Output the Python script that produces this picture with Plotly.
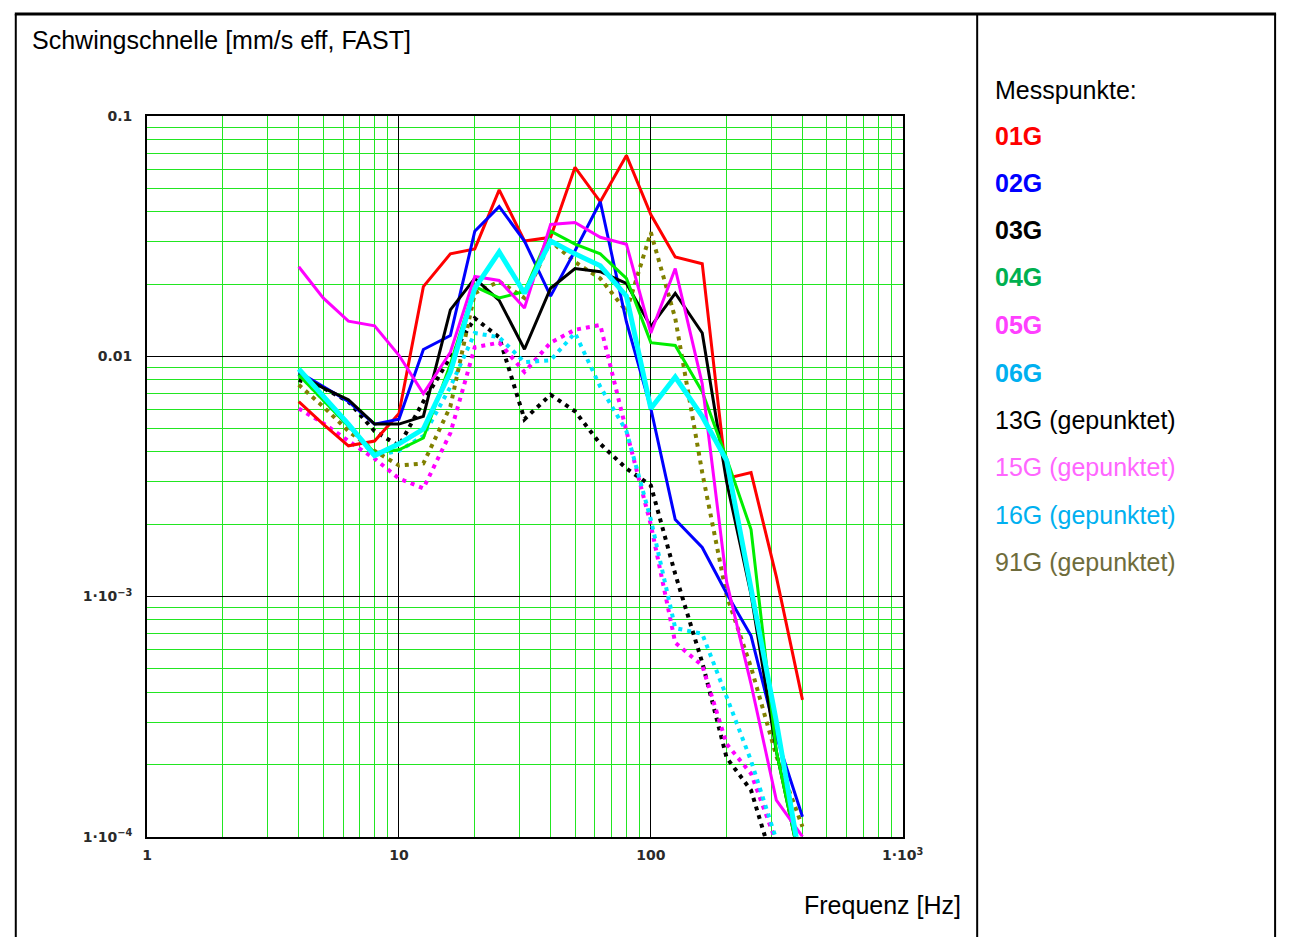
import plotly.graph_objects as go

W, H = 1301, 941

# Terzband-Mittenfrequenzen [Hz]
freq_hz = [4, 5, 6.3, 8, 10, 12.5, 16, 20, 25, 31.5, 40, 50, 63, 80, 100,
           125, 160, 200, 250, 315, 400]

# Schwingschnelle je Messpunkt [mm/s eff, FAST]
v_01G = [0.00648, 0.00522, 0.00424, 0.00444, 0.00578, 0.0195, 0.0267, 0.0280,
         0.0493, 0.0302, 0.0313, 0.0612, 0.0440, 0.0686, 0.0389, 0.0259, 0.0243,
         0.00310, 0.00328, 0.00121, 0.000371]
v_02G = [0.00860, 0.00746, 0.00648, 0.00522, 0.00547, 0.01068, 0.0122, 0.0332,
         0.0420, 0.0302, 0.0178, 0.0275, 0.0440, 0.0139, 0.00606, 0.00209, 0.00160,
         0.00103, 0.000686, 0.000262, 0.000121]
v_03G = [0.00844, 0.00739, 0.00660, 0.00522, 0.00522, 0.00562, 0.0156, 0.0211,
         0.0171, 0.0107, 0.0192, 0.0232, 0.0225, 0.0201, 0.0133, 0.0183, 0.0125,
         0.00300, 0.00102, 0.000227, 0.00007]
v_04G = [0.00836, 0.00660, 0.00512, 0.00397, 0.00408, 0.00457, 0.00927, 0.0195,
         0.0175, 0.0186, 0.0332, 0.0293, 0.0267, 0.0211, 0.0114, 0.0111, 0.00712,
         0.00375, 0.00190, 0.000227, 0.00007]
v_05G = [0.0236, 0.0175, 0.0140, 0.0134, 0.0101, 0.00699, 0.0104, 0.0215,
         0.0207, 0.0159, 0.0354, 0.0361, 0.0313, 0.0293, 0.0125, 0.0232, 0.00768,
         0.00115, 0.000432, 0.000142, 0.000100]
v_06G = [0.00885, 0.00679, 0.00522, 0.00386, 0.00432, 0.00498, 0.00860, 0.0192,
         0.0272, 0.0183, 0.0302, 0.0267, 0.0238, 0.0178, 0.00606, 0.00820, 0.00562,
         0.00368, 0.00108, 0.000302, 0.00007]
v_13G = [0.00797, 0.00739, 0.00648, 0.00488, 0.00424, 0.00648, 0.00991, 0.0144,
         0.0120, 0.00547, 0.00692, 0.00590, 0.00432, 0.00341, 0.00290, 0.00124,
         0.000531, 0.000213, 0.000156, 0.00007, 0.00005]
v_15G = [0.00606, 0.00527, 0.00444, 0.00375, 0.00310, 0.00282, 0.00479, 0.0109,
         0.0114, 0.00860, 0.0114, 0.0129, 0.0135, 0.00488, 0.00199, 0.000642,
         0.000516, 0.000243, 0.000183, 0.0000945, 0.00006]
v_16G = [0.00844, 0.00660, 0.00512, 0.00386, 0.00404, 0.00466, 0.00746, 0.0125,
         0.0120, 0.00945, 0.00963, 0.0125, 0.00746, 0.00488, 0.00209, 0.000739,
         0.000699, 0.000382, 0.000207, 0.0000972, 0.00006]
v_91G = [0.00761, 0.00618, 0.00488, 0.00404, 0.00351, 0.00358, 0.00618, 0.0183,
         0.0205, 0.0175, 0.0302, 0.0247, 0.0211, 0.0154, 0.0328, 0.0144, 0.00328,
         0.00101, 0.000507, 0.000217, 0.000110]

x_tickvals = [1, 10, 100, 1000]
x_ticktext = ["1", "10", "100", "1\u00b710<sup>3</sup>"]
y_tickvals = [0.1, 0.01, 0.001, 0.0001]
y_ticktext = ["0.1", "0.01", "1\u00b710<sup>\u22123</sup>", "1\u00b710<sup>\u22124</sup>"]

x_minor = [m * d for d in (1, 10, 100) for m in range(2, 10)]
y_minor = [m * d for d in (0.0001, 0.001, 0.01) for m in range(2, 10)]

DOT = "4px,5px"
series = [
    # (name, values, colour, width, dash)
    ("13G", v_13G, "#000000", 4, DOT),
    ("15G", v_15G, "#ff00ff", 4, DOT),
    ("16G", v_16G, "#00e5ff", 4, DOT),
    ("91G", v_91G, "#808000", 4, DOT),
    ("01G", v_01G, "#ff0000", 3, "solid"),
    ("02G", v_02G, "#0000ff", 3, "solid"),
    ("03G", v_03G, "#000000", 3, "solid"),
    ("04G", v_04G, "#00ee00", 3, "solid"),
    ("05G", v_05G, "#ff00ff", 3, "solid"),
    ("06G", v_06G, "#00ffff", 5, "solid"),
]

fig = go.Figure()
for name, vals, col, wid, dash in series:
    fig.add_trace(go.Scatter(
        x=freq_hz, y=vals, mode="lines", name=name,
        line=dict(color=col, width=wid, dash=dash),
        showlegend=False,
    ))

# plot area in pixels
PL, PR, PT, PB = 145, 916, 110, 843

tick_font = dict(family="DejaVu Sans", size=14, color="#2a2a2a", weight="bold")

fig.update_layout(
    width=W, height=H,
    margin=dict(l=0, r=0, t=0, b=0),
    paper_bgcolor="white", plot_bgcolor="white",
    xaxis=dict(
        type="log", range=[0, 3], domain=[PL / W, PR / W],
        showline=True, linecolor="black", linewidth=2, mirror=True,
        tickmode="array", tickvals=x_tickvals, ticktext=x_ticktext,
        ticks="", tickfont=tick_font, ticklabelstandoff=5,
        showgrid=True, gridcolor="black", gridwidth=1, zeroline=False,
        minor=dict(tickmode="array", tickvals=x_minor, showgrid=True,
                   gridcolor="#22e622", gridwidth=1, ticks=""),
    ),
    yaxis=dict(
        type="log", range=[-4, -1], domain=[1 - PB / H, 1 - PT / H],
        showline=True, linecolor="black", linewidth=2, mirror=True,
        tickmode="array", tickvals=y_tickvals, ticktext=y_ticktext,
        ticks="", tickfont=tick_font, ticklabelstandoff=10,
        showgrid=True, gridcolor="black", gridwidth=1, zeroline=False,
        minor=dict(tickmode="array", tickvals=y_minor, showgrid=True,
                   gridcolor="#22e622", gridwidth=1, ticks=""),
    ),
)

TEXT_FONT = "Liberation Sans, Arial, sans-serif"
FS = 25


def px(x, y):
    return x / W, 1 - y / H


def label(text, x, y, color="black", bold=False, anchor="left"):
    ax, ay = px(x, y)
    fig.add_annotation(
        x=ax, y=ay, xref="paper", yref="paper", text=text, showarrow=False,
        xanchor=anchor, yanchor="middle",
        font=dict(family=TEXT_FONT, size=FS, color=color,
                  weight="bold" if bold else "normal"),
    )


label("Schwingschnelle [mm/s eff, FAST]", 25, 33)
label("Frequenz [Hz]", 978, 913, anchor="right")

legend_rows = [
    ("Messpunkte:", "black", False, 83),
    ("01G", "#ff0000", True, 130),
    ("02G", "#0000ff", True, 178),
    ("03G", "#000000", True, 226),
    ("04G", "#00b050", True, 274),
    ("05G", "#ff40ff", True, 322),
    ("06G", "#00b0f0", True, 371),
    ("13G (gepunktet)", "#000000", False, 419),
    ("15G (gepunktet)", "#ff66ff", False, 467),
    ("16G (gepunktet)", "#00b0f0", False, 516),
    ("91G (gepunktet)", "#6e6c3c", False, 564),
]
for text, col, bold, yy in legend_rows:
    label(text, 1008, yy, color=col, bold=bold)

# outer frame and divider between chart and key
frame = [
    ((10, 6), (1297, 6), 3),
    ((11, 6), (11, 945), 2),
    ((1296, 6), (1296, 945), 2),
    ((992, 6), (992, 945), 2),
]
for (x0, y0), (x1, y1), w in frame:
    a0, b0 = px(x0, y0)
    a1, b1 = px(x1, y1)
    fig.add_shape(type="line", xref="paper", yref="paper",
                  x0=a0, y0=b0, x1=a1, y1=b1,
                  line=dict(color="black", width=w))

fig.write_html("out.html")
